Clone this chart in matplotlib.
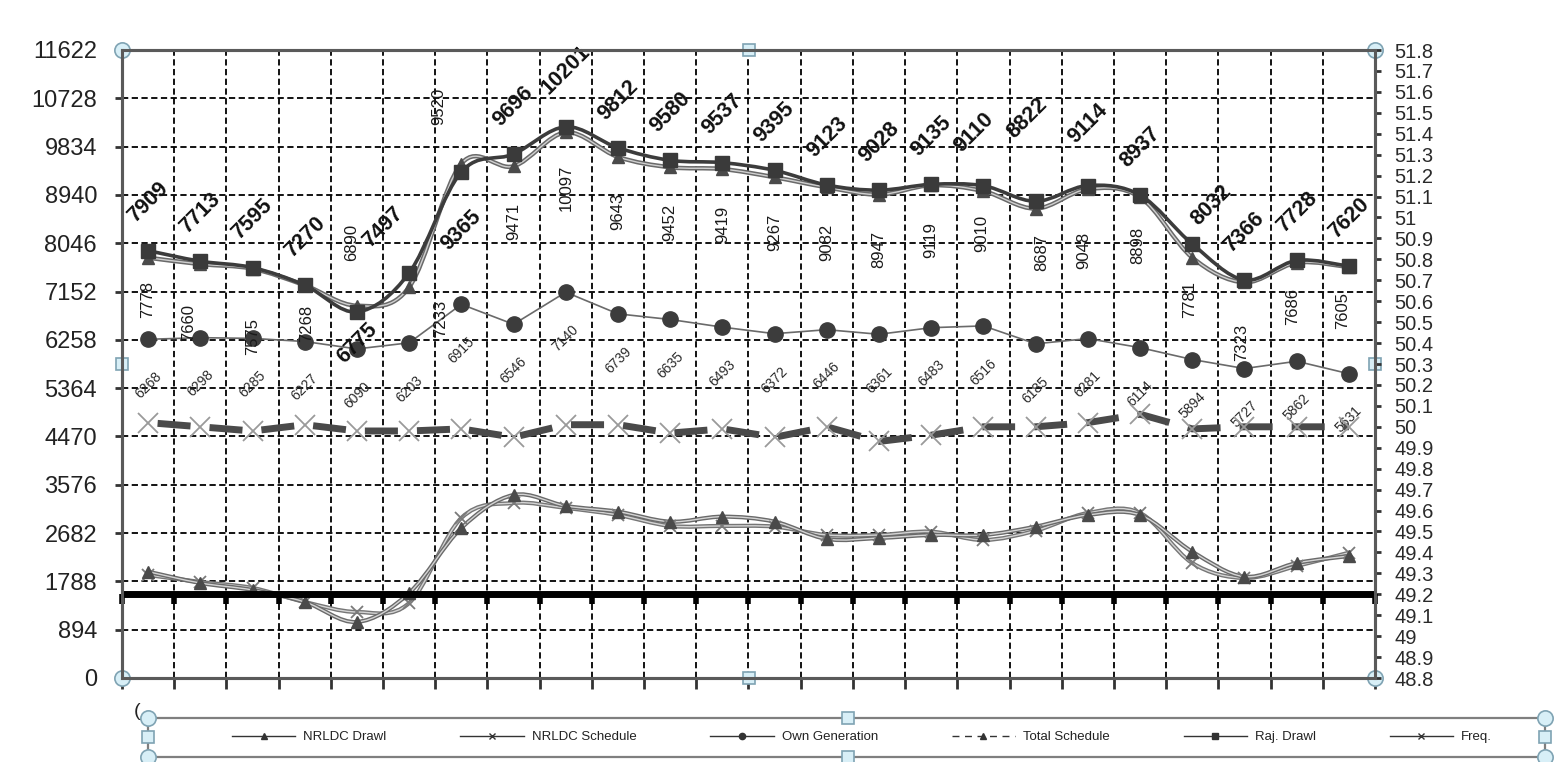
import numpy as np
import matplotlib
matplotlib.use("Agg")
import matplotlib.pyplot as plt
from matplotlib.path import Path
from matplotlib.patches import PathPatch, Rectangle
from matplotlib.lines import Line2D
from matplotlib import patheffects as pe
from matplotlib import markers as mmarkers

plt.rcParams['font.family'] = ['Liberation Sans', 'DejaVu Sans']
plt.rcParams['lines.scale_dashes'] = False

# ---------------- data ----------------
blocks = list(range(1, 25))
raj_drawl = [7909, 7713, 7595, 7270, 6775, 7497, 9365, 9696, 10201, 9812, 9580, 9537,
             9395, 9123, 9028, 9135, 9110, 8822, 9114, 8937, 8032, 7366, 7728, 7620]
total_schedule = [7778, 7660, 7575, 7268, 6890, 7233, 9520, 9471, 10097, 9643, 9452, 9419,
                  9267, 9082, 8947, 9119, 9010, 8687, 9048, 8898, 7781, 7323, 7686, 7605]
own_generation = [6268, 6298, 6285, 6227, 6090, 6203, 6915, 6546, 7140, 6739, 6635, 6493,
                  6372, 6446, 6361, 6483, 6516, 6185, 6281, 6114, 5894, 5727, 5862, 5631]
nrldc_drawl = [1968, 1758, 1629, 1407, 1037, 1573, 2777, 3387, 3184, 3078, 2893, 2986,
               2893, 2573, 2591, 2647, 2647, 2801, 3017, 3017, 2338, 1875, 2128, 2258]
nrldc_schedule = [1907, 1777, 1666, 1407, 1222, 1388, 2962, 3239, 3147, 3017, 2814, 2814,
                  2801, 2647, 2647, 2708, 2554, 2727, 3054, 3054, 2128, 1851, 2073, 2319]
freq = [50.02, 50.00, 49.98, 50.01, 49.98, 49.98, 49.99, 49.95, 50.01, 50.01, 49.97, 49.99,
        49.95, 50.00, 49.93, 49.96, 50.00, 50.00, 50.02, 50.06, 49.99, 50.00, 50.00, 50.00]
freq_limit = 49.2
left_ticks = [0, 894, 1788, 2682, 3576, 4470, 5364, 6258, 7152, 8046, 8940, 9834, 10728, 11622]
right_min, right_max, right_step = 48.8, 51.8, 0.1
legend_labels = ['NRLDC Drawl', 'NRLDC Schedule', 'Own Generation', 'Total Schedule', 'Raj. Drawl', 'Freq.']

# ---------------- figure ----------------
W, H = 1555, 762
fig = plt.figure(figsize=(W / 100, H / 100), dpi=100)
fig.patch.set_facecolor('white')
L, R, T, B = 122, 1375, 50, 678
ax = fig.add_axes([L / W, 1 - B / H, (R - L) / W, (B - T) / H])
ax2 = ax.twinx()

x = np.arange(len(blocks))


def smooth_path(xs, ys):
    xs = np.asarray(xs, float)
    ys = np.asarray(ys, float)
    n = len(xs)
    verts = [(xs[0], ys[0])]
    codes = [Path.MOVETO]
    for i in range(n - 1):
        i0 = max(i - 1, 0)
        i3 = min(i + 2, n - 1)
        c1 = (xs[i] + (xs[i + 1] - xs[i0]) / 6, ys[i] + (ys[i + 1] - ys[i0]) / 6)
        c2 = (xs[i + 1] - (xs[i3] - xs[i]) / 6, ys[i + 1] - (ys[i3] - ys[i]) / 6)
        verts += [c1, c2, (xs[i + 1], ys[i + 1])]
        codes += [Path.CURVE4] * 3
    return Path(verts, codes)


def add_curve(a, ys, color, lw, outline=None, z=3):
    p = PathPatch(smooth_path(x, ys), fill=False, edgecolor=color, lw=lw, zorder=z,
                  capstyle='round', joinstyle='round')
    if outline is not None:
        p.set_path_effects([pe.Stroke(linewidth=outline[1], foreground=outline[0]), pe.Normal()])
    a.add_patch(p)


# axes cosmetics
ax.set_xlim(-0.5, len(blocks) - 0.5)
ax.set_ylim(left_ticks[0], left_ticks[-1])
ax.set_yticks(left_ticks)
ax.set_xticks(np.arange(-0.5, len(blocks), 1))
ax.set_xticklabels([])
ax.set_axisbelow(True)
ax.grid(True, color='black', ls=(0, (4.5, 2.5)), lw=1.3)
rt = np.round(np.linspace(right_min, right_max, int(round((right_max - right_min) / right_step)) + 1), 1)
ax2.set_ylim(right_min, right_max)
ax2.set_yticks(rt)
ax2.set_yticklabels([f'{v:g}' for v in rt])

for a in (ax, ax2):
    for s in a.spines.values():
        s.set_color('#5a5a5a')
        s.set_linewidth(2.2)
ax.tick_params(axis='y', direction='out', length=5, width=2, color='#333333',
               labelsize=17, pad=13, labelcolor='#222222')
ax.tick_params(axis='x', direction='out', length=8, width=2, color='#333333')
ax2.tick_params(axis='y', direction='out', length=4, width=2, color='#333333',
                labelsize=14.5, pad=10, labelcolor='#2a2a2a')

# lower series (NRLDC)
add_curve(ax, nrldc_schedule, '#d4d4d4', 1.0, outline=('#767676', 3.0), z=3)
add_curve(ax, nrldc_drawl, '#d4d4d4', 1.0, outline=('#6a6a6a', 3.0), z=3)
ax.plot(x, nrldc_schedule, ls='none', marker='x', ms=9, mew=1.3, color='#7a7a7a', zorder=4)
ax.plot(x, nrldc_drawl, ls='none', marker='^', ms=9, color='#4a4a4a', zorder=4)

# own generation
ax.plot(x, own_generation, color='#6a6a6a', lw=1.2, zorder=3)
ax.plot(x, own_generation, ls='none', marker='o', ms=11, color='#3c3c3c', zorder=4)

# total schedule & raj drawl
add_curve(ax, total_schedule, '#d0d0d0', 1.0, outline=('#6a6a6a', 3.2), z=3)
ax.plot(x, total_schedule, ls='none', marker='^', ms=9, color='#4a4a4a', zorder=4)
add_curve(ax, raj_drawl, '#3c3c3c', 2.6, z=3.2)
ax.plot(x, raj_drawl, ls='none', marker='s', ms=9.5, color='#3a3a3a', zorder=4.2)

# frequency + limit line on right axis
ax2.axhline(freq_limit, color='black', lw=5, zorder=2)
ax2.plot(np.arange(-0.5, len(blocks), 1), [freq_limit] * (len(blocks) + 1), ls='none',
         marker=mmarkers.TICKDOWN, ms=7, mew=4, color='black', zorder=2, clip_on=False)
on, off = 23.8, 13.7
ax2.plot(x, freq, color='#4a4a4a', lw=5, ls=(on + off / 2, (on, off)),
         solid_capstyle='butt', dash_capstyle='butt', zorder=3)
ax2.plot(x, freq, ls='none', marker='x', ms=14, mew=1.3, color='#9a9a9a', zorder=4)

# ---------------- data labels ----------------
PX = 0.72  # pixel -> points at 100 dpi

raj_off = {4: (0, 31), 5: (-26, -46), 6: (0, 58), 8: (0, -57), 17: (-8, -83), 18: (0, -62),
           20: (19, -39), 16: (-10, -53)}
for i, v in enumerate(raj_drawl):
    dx, dy = raj_off.get(i, (0, -48))
    ax.annotate(f'{v}', (x[i], v), xytext=(dx * PX, -dy * PX), textcoords='offset points',
                rotation=45, rotation_mode='anchor', ha='center', va='center',
                fontsize=15.5, fontweight='bold', color='#111111', zorder=6, annotation_clip=False)

ts_off = {0: (0, 42), 1: (-12, 58), 2: (0, 68), 3: (2, 38), 4: (-5, -63), 5: (31, 31),
          6: (-23, -57), 16: (-2, 42), 17: (6, 44), 19: (-2, 48), 20: (-3, 42), 22: (-4, 44),
          23: (-6, 43), 18: (-4, 61), 21: (-3, 60)}
for i, v in enumerate(total_schedule):
    dx, dy = ts_off.get(i, (0, 55))
    ax.annotate(f'{v}', (x[i], v), xytext=(dx * PX, -dy * PX), textcoords='offset points',
                rotation=90, rotation_mode='anchor', ha='center', va='center',
                fontsize=12, color='#1a1a1a', zorder=6, annotation_clip=False)

for i, v in enumerate(own_generation):
    ax.annotate(f'{v}', (x[i], v), xytext=(0, -46 * PX), textcoords='offset points',
                rotation=45, rotation_mode='anchor', ha='center', va='center',
                fontsize=10, color='#2a2a2a', zorder=6, annotation_clip=False)

# ---------------- legend ----------------
lc = '#333333'
handles = [
    Line2D([], [], color=lc, lw=1, marker='^', ms=5),
    Line2D([], [], color=lc, lw=1, marker='x', ms=5, mew=1),
    Line2D([], [], color=lc, lw=1, marker='o', ms=4.5),
    Line2D([], [], color=lc, lw=1, ls=(0, (5, 4)), marker='^', ms=5),
    Line2D([], [], color=lc, lw=1, marker='s', ms=4.5),
    Line2D([], [], color=lc, lw=1, marker='x', ms=5, mew=1),
]
fig.legend(handles, legend_labels, loc='center', bbox_to_anchor=(862 / W, 1 - 737 / H),
           ncol=6, frameon=False, fontsize=9.5, handlelength=4.8, handletextpad=0.6,
           columnspacing=5.6, labelcolor='#222222')
fig.add_artist(Rectangle((148 / W, 1 - 757 / H), (1545 - 148) / W, 39 / H,
                         transform=fig.transFigure, fill=False, edgecolor='#7f7f7f', lw=1.6))
fig.text(137 / W, 1 - 712 / H, '(', fontsize=14, ha='center', va='center', color='#222222')

# selection handles (chart was selected in the source screenshot)
hfc, hec = '#d8eff7', '#7fa3b3'
for (fx, fy, m) in [(0, 1, 'o'), (1, 1, 'o'), (0, 0, 'o'), (1, 0, 'o'),
                    (0.5, 1, 's'), (0.5, 0, 's'), (0, 0.5, 's'), (1, 0.5, 's')]:
    ax.plot([fx], [fy], transform=ax.transAxes, marker=m, ms=11 if m == 'o' else 9,
            mfc=hfc, mec=hec, mew=1.2, clip_on=False, zorder=10)
for (px, py, m) in [(148, 718, 'o'), (1545, 718, 'o'), (148, 757, 'o'), (1545, 757, 'o'),
                    (848, 718, 's'), (848, 757, 's'), (148, 737, 's'), (1545, 737, 's')]:
    fig.add_artist(Line2D([px / W], [1 - py / H], transform=fig.transFigure, marker=m,
                          ms=11 if m == 'o' else 9, mfc=hfc, mec=hec, mew=1.2))

fig.savefig('out.png', dpi=100)
